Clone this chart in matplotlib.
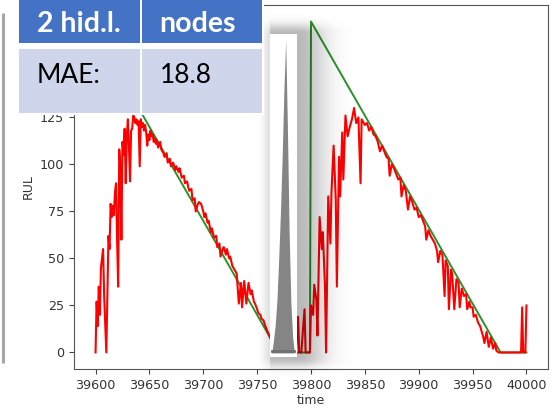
import matplotlib
matplotlib.use('Agg')
import matplotlib.pyplot as plt
from matplotlib.patches import Rectangle
import numpy as np

# true RUL (green) and predicted RUL (red)
green_time = [39600, 39770, 39799, 39800, 39976, 40000]
green_rul = [170, 0, 0, 176, 0, 0]

red_time = [39600, 39601, 39602, 39603, 39604, 39605, 39606, 39607, 39608, 39609,
            39610, 39611, 39612, 39613, 39614, 39615, 39616, 39617, 39618, 39619,
            39620, 39621, 39622, 39623, 39624, 39625, 39626, 39627, 39628, 39629,
            39630, 39631, 39632, 39633, 39634, 39635, 39636, 39637, 39638, 39639,
            39640, 39641, 39642, 39643, 39644, 39645, 39646, 39647, 39648, 39649,
            39650, 39651, 39652, 39653, 39654, 39655, 39656, 39657, 39658, 39660,
            39661, 39663, 39664, 39666, 39667, 39669, 39670, 39672, 39674, 39675,
            39677, 39678, 39680, 39682, 39683, 39685, 39686, 39687, 39689, 39690,
            39692, 39693, 39695, 39696, 39698, 39700, 39701, 39702, 39704, 39705,
            39707, 39708, 39710, 39712, 39713, 39715, 39716, 39718, 39719, 39721,
            39722, 39724, 39725, 39727, 39728, 39730, 39731, 39733, 39735, 39736,
            39738, 39740, 39742, 39744, 39745, 39747, 39748, 39750, 39751, 39753,
            39754, 39756, 39757, 39759, 39762, 39766, 39770, 39786,
            39788, 39789, 39791, 39794, 39795, 39799, 39800, 39802, 39803, 39805,
            39806, 39808, 39810, 39811, 39813, 39814, 39816, 39818, 39819, 39821,
            39823, 39824, 39826, 39827, 39829, 39830, 39832, 39834, 39836, 39838,
            39840, 39842, 39844, 39846, 39847, 39850, 39852, 39854, 39856, 39858,
            39860, 39862, 39864, 39866, 39868, 39870, 39872, 39873, 39875, 39877,
            39879, 39881, 39883, 39884, 39886, 39888, 39890, 39892, 39894, 39896,
            39898, 39900, 39902, 39904, 39906, 39907, 39909, 39911, 39913, 39915,
            39917, 39918, 39920, 39922, 39924, 39925, 39927, 39928, 39930, 39931,
            39933, 39935, 39937, 39938, 39940, 39942, 39944, 39945, 39947, 39948,
            39950, 39951, 39953, 39955, 39957, 39958, 39960, 39961, 39963, 39965,
            39967, 39969, 39971, 39972, 39974,
            39995, 39996, 39997, 39999, 40000]
red_rul = [0, 27, 14, 35, 20, 45, 50, 55, 30, 15,
           0, 30, 62, 55, 79, 72, 78, 73, 85, 90,
           60, 35, 108, 100, 60, 112, 105, 119, 90, 115,
           124, 110, 91, 118, 119, 126, 125, 122, 124, 121,
           123, 99, 124, 120, 122, 118, 121, 117, 110, 116,
           113, 118, 115, 116, 112, 114, 111, 113, 109, 112,
           108, 106, 104, 106, 101, 103, 99, 101, 97, 99,
           96, 98, 93, 94, 90, 91, 88, 86, 87, 81,
           82, 75, 79, 80, 79, 75, 72, 74, 69, 70,
           64, 66, 61, 62, 56, 58, 51, 55, 56, 52,
           55, 50, 51, 46, 45, 43, 42, 26, 37, 24,
           38, 26, 37, 31, 33, 27, 26, 23, 21, 20,
           18, 17, 15, 12, 8, 3, 0, 0,
           19, 0, 0, 23, 0, 0, 25, 20, 36, 28,
           9, 72, 55, 64, 35, 0, 83, 58, 85, 110,
           81, 35, 104, 83, 117, 92, 126, 115, 120, 124,
           130, 122, 125, 90, 124, 121, 122, 118, 120, 116,
           115, 112, 107, 110, 107, 104, 103, 94, 100, 98,
           95, 92, 93, 83, 89, 86, 76, 83, 80, 76,
           77, 72, 73, 70, 67, 60, 65, 62, 60, 58,
           54, 48, 54, 52, 30, 49, 46, 23, 44, 42,
           23, 39, 37, 24, 34, 30, 31, 23, 27, 24,
           24, 19, 20, 16, 14, 12, 8, 5, 11, 3,
           8, 2, 5, 1, 0,
           0, 24, 0, 0, 25]

# error histogram in the white box (bin centres and counts)
hist_bins = [0, 1, 2, 3, 4, 5, 6, 7, 8, 9, 10, 11, 12, 13]
hist_counts = [0, 4, 9, 17, 30, 45, 63, 84, 100, 72, 38, 16, 5, 0]

# table overlay
header = ['2 hid.l.', 'nodes']
row = ['MAE:', '18.8']

W, H = 556, 409
fig = plt.figure(figsize=(W / 100, H / 100), dpi=100)

ax = fig.add_axes([74 / W, (H - 369) / H, (548 - 74) / W, (369 - 5) / H])
ax.plot(green_time, green_rul, color='#2a922a', lw=1.4)
ax.plot(red_time, red_rul, color='#ff0000', lw=1.5)
ax.set_xlim(39580, 40020)
ax.set_ylim(-8.8, 184.8)
ax.set_xticks(range(39600, 40001, 50))
ax.set_yticks(range(0, 126, 25))
ax.tick_params(labelsize=9.2, labelcolor='#333333', color='#444444', length=3.5)
for s in ax.spines.values():
    s.set_color('#555555')
ax.set_xlabel('time', fontsize=9, color='#333333', labelpad=2)
ax.set_ylabel('RUL', fontsize=9, color='#333333')

# overlay: shadow, gray side line, table
ov = fig.add_axes([0, 0, 1, 1], zorder=1)
ov.set_xlim(0, W)
ov.set_ylim(H, 0)
ov.axis('off')
ov.patch.set_alpha(0)

yy, xx = np.mgrid[0:H, 0:W] + 0.5
sx = np.where(xx < 270, 0.12 * np.exp(-((270 - xx) / 7) ** 2),
              np.where(xx > 297, 0.28 * np.exp(-((xx - 297) / 28) ** 2), 0.28))
sy = np.where(yy < 34, np.exp(-((34 - yy) / 10) ** 2),
              np.where(yy > 357, np.exp(-((yy - 357) / 10) ** 2), 1.0))
shadow = np.zeros((H, W, 4))
shadow[..., 3] = sx * sy
ov.imshow(shadow, extent=(0, W, H, 0), aspect='auto', interpolation='bilinear')

ov.plot([2.5, 2.5], [13, 363], color='#a6a6a6', lw=2.2, solid_capstyle='butt')

ov.add_patch(Rectangle((17, 0), 247, 115, facecolor='white', edgecolor='none'))
ov.add_patch(Rectangle((19, 0), 121, 43, facecolor='#4472c4', edgecolor='none'))
ov.add_patch(Rectangle((141.5, 0), 120.5, 43, facecolor='#4472c4', edgecolor='none'))
ov.add_patch(Rectangle((19, 49), 121, 64, facecolor='#cfd5ea', edgecolor='none'))
ov.add_patch(Rectangle((141.5, 49), 120.5, 64, facecolor='#cfd5ea', edgecolor='none'))
tfont = ['Lato', 'DejaVu Sans']
ov.text(37, 32, header[0], fontsize=20.5, fontweight='bold', color='white', family=tfont, va='baseline')
ov.text(159, 32, header[1], fontsize=20.5, fontweight='bold', color='white', family=tfont, va='baseline')
ov.text(37, 83, row[0], fontsize=19, color='black', family=tfont, va='baseline')
ov.text(160, 83, row[1], fontsize=19, color='black', family=tfont, va='baseline')

# white box with histogram
hax = fig.add_axes([270 / W, (H - 357) / H, 27 / W, 323 / H], zorder=2)
hax.fill_between(hist_bins, hist_counts, color='#858585', lw=0)
hax.plot([hist_bins[0], hist_bins[-1]], [0.6, 0.6], color='#6e6e6e', lw=2)
hax.set_xlim(-1, 14.5)
hax.set_ylim(-1.3, 101.9)
hax.set_xticks([])
hax.set_yticks([])
for s in hax.spines.values():
    s.set_visible(False)
hax.set_facecolor('white')

fig.savefig('out.png', dpi=100)
